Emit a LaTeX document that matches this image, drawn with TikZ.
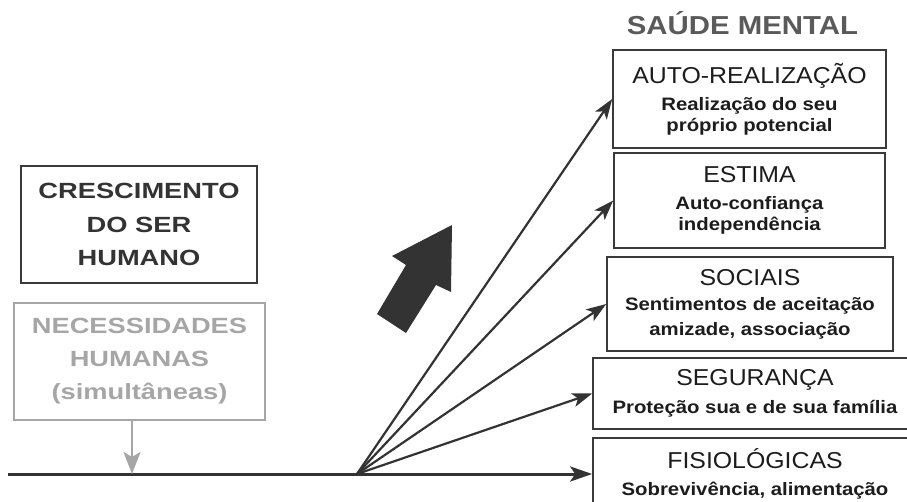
\documentclass[tikz,border=0pt]{standalone}
\usepackage{fontspec}
\setmainfont{Liberation Sans}
\newfontfamily\headfont[FakeStretch=1.08]{Liberation Sans}
\newfontfamily\subfont[FakeStretch=1.13]{Liberation Sans}
\newfontfamily\leftfont[FakeStretch=1.24]{Liberation Sans}
\usepackage{tikz}
\usetikzlibrary{calc,arrows.meta}
\definecolor{ink}{HTML}{1C1C1C}
\definecolor{frame}{HTML}{3A3A3A}
\definecolor{soft}{HTML}{A6A6A6}
\definecolor{titlegray}{HTML}{5A5A5A}
\definecolor{block}{HTML}{333333}
\tikzset{
  need/.style={draw=frame, line width=1.6pt, text=ink, align=center, inner sep=0pt,
    font=\subfont\bfseries\fontsize{18}{21}\selectfont},
  growbox/.style={draw=frame, line width=1.6pt, text=block, align=center, inner sep=0pt,
    font=\leftfont\bfseries\fontsize{22}{33.5}\selectfont},
  softbox/.style={draw=soft, line width=1.6pt, text=soft, align=center, inner sep=0pt,
    font=\leftfont\bfseries\fontsize{22}{33}\selectfont},
  ray/.style={draw=block, line width=2.2pt, -{Stealth[length=20pt,width=14pt,inset=5pt]}},
  axis/.style={draw=block, line width=3pt, -{Stealth[length=22pt,width=15pt,inset=5pt]}},
  feed/.style={draw=soft, line width=2.4pt, -{Stealth[length=22pt,width=17pt,inset=5pt]}}
}
\newcommand{\hd}{\headfont\mdseries\fontsize{23}{23}\selectfont}
\begin{document}
\begin{tikzpicture}[x=1pt,y=-1pt]
  \useasboundingbox (0,0) rectangle (907,502);

  \node[anchor=base, text=titlegray, font=\subfont\bfseries\fontsize{26}{26}\selectfont]
    (title) at (742.5,35) {SAÚDE MENTAL};

  % the five needs, top to bottom
  \node[need, minimum width=273pt, minimum height=98pt] (auto) at (749.5,99)
    {{\hd AUTO-REALIZAÇÃO}\\[6pt]
     Realização do seu\\próprio potencial};
  \node[need, minimum width=271pt, minimum height=95pt] (estima) at (749.5,200.5)
    {{\hd ESTIMA}\\[6pt]
     Auto-confiança\\independência};
  \node[need, minimum width=286pt, minimum height=94pt] (sociais) at (750,304)
    {{\hd SOCIAIS}\\[4pt]
     Sentimentos de aceitação\\[4pt]amizade, associação};
  \node[need, minimum width=324pt, minimum height=71pt] (seg) at (755,393.5)
    {{\hd SEGURANÇA}\\[7pt]
     Proteção sua e de sua família};
  \node[need, minimum width=324pt, minimum height=72pt] (fisio) at (755,474)
    {{\hd FISIOLÓGICAS}\\[6pt]
     Sobrevivência, alimentação};

  \node[growbox, minimum width=236pt, minimum height=117pt] (cresc) at (139,224.5)
    {CRESCIMENTO\\DO SER\\HUMANO};
  \node[softbox, minimum width=251pt, minimum height=117pt] (nec) at (139.5,361.5)
    {NECESSIDADES\\HUMANAS\\(simultâneas)};

  \coordinate (start) at (8,474);
  \coordinate (base) at (132,474);
  \coordinate (fan) at (357,474);

  \draw[axis] (start) -- (fisio.west);
  \draw[feed] (nec.south -| base) -- (base);
  \foreach \n in {auto,estima,sociais,seg}
    \draw[ray] (fan) -- (\n.west);

  % big growth arrow
  \fill[block] (452,225) -- (451,292) -- (436,285) -- (406,333) -- (377,314)
    -- (406,265) -- (392,256) -- cycle;
\end{tikzpicture}
\end{document}
